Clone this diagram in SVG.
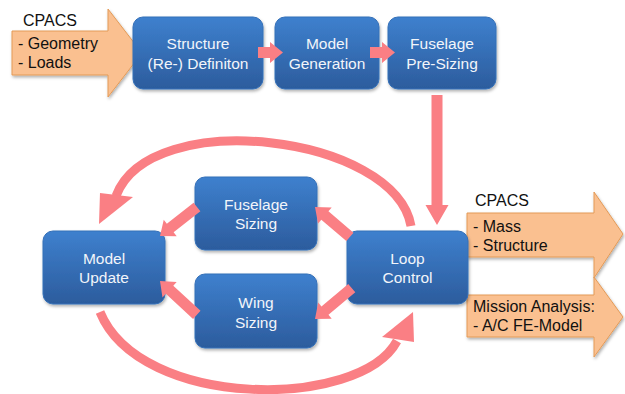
<svg xmlns="http://www.w3.org/2000/svg" width="625" height="394" viewBox="0 0 625 394">
<defs>
<linearGradient id="bg" x1="0" y1="0" x2="0" y2="1">
<stop offset="0" stop-color="#3E80CE"/>
<stop offset="1" stop-color="#2C5C9D"/>
</linearGradient>
<filter id="sh" x="-10%" y="-10%" width="130%" height="130%">
<feDropShadow dx="1" dy="2" stdDeviation="1.5" flood-color="#000" flood-opacity="0.3"/>
</filter>
<style>
.box{fill:url(#bg);stroke:#3470B8;stroke-width:1;filter:url(#sh);}
.bt{font-family:"Liberation Sans",Arial,sans-serif;font-size:15.5px;fill:#F2F5FA;text-anchor:middle;}
.ot{font-family:"Liberation Sans",Arial,sans-serif;font-size:16px;fill:#111;}
.org{fill:#FAC090;stroke:#E39A57;stroke-width:1;filter:url(#sh);}
.pk{fill:#FA7F84;}
.arc{fill:none;stroke:#FA7F84;stroke-width:9;}
</style>
</defs>
<rect width="625" height="394" fill="#fff"/>

<g id="input-cpacs">
<polygon class="org" points="12,31 108,31 108,9 142,53 108,97 108,75 12,75"/>
<text class="ot" x="23" y="26">CPACS</text>
<text class="ot" x="18" y="49">- Geometry</text>
<text class="ot" x="18" y="68">- Loads</text>
</g>

<g id="output-cpacs">
<polygon class="org" points="467,213 594,213 594,192 623,234 594,278 594,257 467,257"/>
<text class="ot" x="475" y="206">CPACS</text>
<text class="ot" x="473" y="232">- Mass</text>
<text class="ot" x="473" y="251">- Structure</text>
</g>

<g id="output-mission">
<polygon class="org" points="467,295 594,295 594,277 623,317 594,357 594,337 467,337"/>
<text class="ot" x="473" y="312">Mission Analysis:</text>
<text class="ot" x="473" y="331">- A/C FE-Model</text>
</g>

<g id="structure-definition">
<rect class="box" x="133" y="17" width="130" height="72" rx="10"/>
<text class="bt" x="198" y="49">Structure</text>
<text class="bt" x="198" y="69">(Re-) Definiton</text>
</g>

<g id="model-generation">
<rect class="box" x="275" y="17" width="104" height="72" rx="10"/>
<text class="bt" x="327" y="49">Model</text>
<text class="bt" x="327" y="69">Generation</text>
</g>

<g id="fuselage-presizing">
<rect class="box" x="388" y="17" width="108" height="72" rx="10"/>
<text class="bt" x="442" y="49">Fuselage</text>
<text class="bt" x="442" y="69">Pre-Sizing</text>
</g>

<g id="fuselage-sizing">
<rect class="box" x="195" y="177" width="122" height="73" rx="10"/>
<text class="bt" x="256" y="210">Fuselage</text>
<text class="bt" x="256" y="229">Sizing</text>
</g>

<g id="wing-sizing">
<rect class="box" x="195" y="274" width="122" height="74" rx="10"/>
<text class="bt" x="256" y="308">Wing</text>
<text class="bt" x="256" y="328">Sizing</text>
</g>

<g id="model-update">
<rect class="box" x="43" y="231" width="122" height="73" rx="10"/>
<text class="bt" x="104" y="264">Model</text>
<text class="bt" x="104" y="283">Update</text>
</g>

<g id="loop-control">
<rect class="box" x="347" y="231" width="121" height="73" rx="10"/>
<text class="bt" x="407.5" y="264">Loop</text>
<text class="bt" x="407.5" y="283">Control</text>
</g>

<g id="connectors">
<path class="pk" transform="translate(283,52.5)" d="M0,0 L-13,-10.5 L-13,-5.5 L-25,-5.5 L-25,5.5 L-13,5.5 L-13,10.5 Z"/>
<path class="pk" transform="translate(395,52.5)" d="M0,0 L-13,-10.5 L-13,-5.5 L-25,-5.5 L-25,5.5 L-13,5.5 L-13,10.5 Z"/>
<path class="pk" transform="translate(437,225) rotate(90)" d="M0,0 L-20,-11.5 L-20,-5.5 L-130,-5.5 L-130,5.5 L-20,5.5 L-20,11.5 Z"/>
<path class="pk" transform="translate(315,207) rotate(220.6)" d="M0,0 L-13,-10.5 L-13,-5.5 L-46,-5.5 L-46,5.5 L-13,5.5 L-13,10.5 Z"/>
<path class="pk" transform="translate(315,319) rotate(140)" d="M0,0 L-13,-10.5 L-13,-5.5 L-48,-5.5 L-48,5.5 L-13,5.5 L-13,10.5 Z"/>
<path class="pk" transform="translate(160,236) rotate(141.9)" d="M0,0 L-13,-10.5 L-13,-5.5 L-47,-5.5 L-47,5.5 L-13,5.5 L-13,10.5 Z"/>
<path class="pk" transform="translate(160,281) rotate(222.6)" d="M0,0 L-13,-10.5 L-13,-5.5 L-50,-5.5 L-50,5.5 L-13,5.5 L-13,10.5 Z"/>
<path class="arc" d="M411,226 C395,135 150,105 116,196"/>
<polygon class="pk" points="99,224 100,193 133,197"/>
<path class="arc" d="M100,312 C140,410 360,410 397,341"/>
<polygon class="pk" points="413,312 414,342 382,337"/>
</g>
</svg>
